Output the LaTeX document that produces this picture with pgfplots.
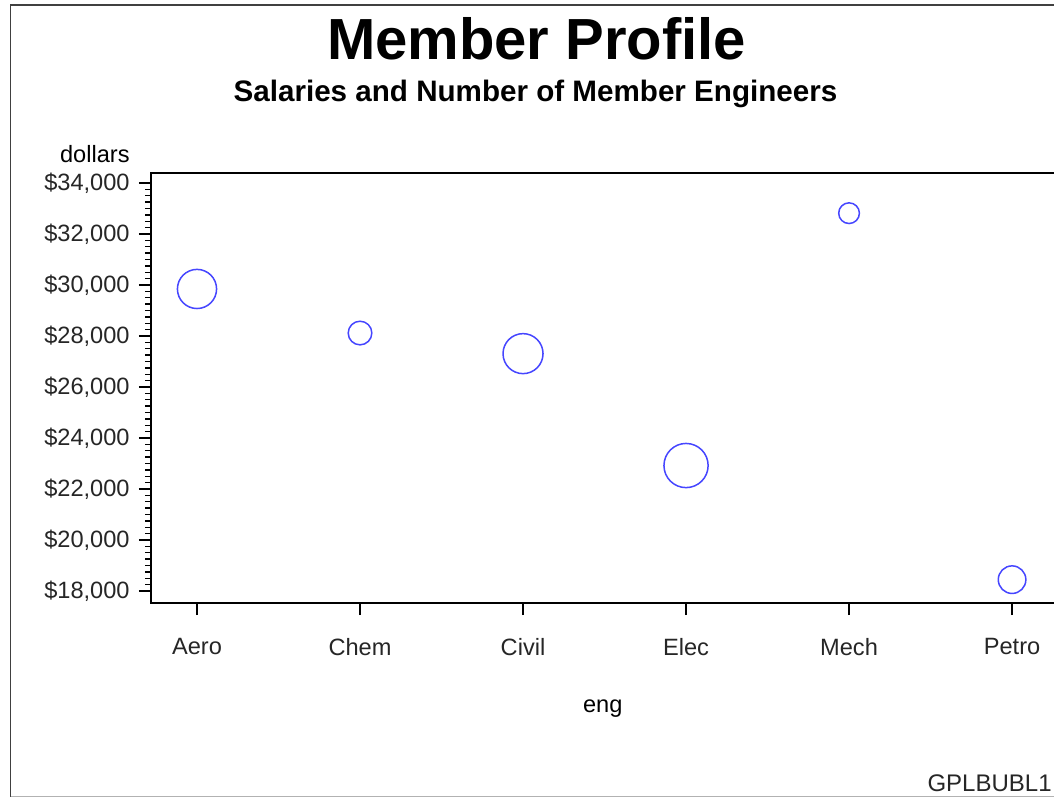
\documentclass[border=0pt]{standalone}
\usepackage{pgfplots}
\pgfplotsset{compat=1.18}
\usepackage{fontspec}
\setmainfont{Liberation Sans}
\definecolor{bubble}{RGB}{70,70,255}
\pgfplotstableread{
x eng dollars num
0 Aero 29844 70192
1 Chem 28116 25541
2 Civil 27308 73273
3 Elec 22920 89382
4 Mech 32816 19601
5 Petro 18444 34833
}\jobs
\begin{document}
\begin{tikzpicture}
\useasboundingbox (0pt,0pt) rectangle (527pt,398.5pt);
\fill[white] (0pt,0pt) rectangle (527pt,398.5pt);
\begin{axis}[
  at={(75.5pt,97pt)}, anchor=south west, scale only axis,
  width=454.5pt, height=215pt,
  xmin=-0.2822, xmax=5.294,
  ymin=17529, ymax=34392,
  scaled y ticks=false,
  axis line style={line width=0.8pt},
  xtick={0,1,2,3,4,5},
  xticklabels={Aero,Chem,Civil,Elec,Mech,Petro},
  ytick={18000,20000,...,34000},
  yticklabels={\$18{,}000,\$20{,}000,\$22{,}000,\$24{,}000,\$26{,}000,\$28{,}000,\$30{,}000,\$32{,}000,\$34{,}000},
  minor y tick num=7,
  tick align=outside,
  xtick pos=bottom, ytick pos=left,
  major tick length=6pt, minor tick length=3pt,
  every tick/.style={black, line width=0.7pt},
  tick label style={font=\fontsize{11.8}{14}\selectfont, text=black!85},
  yticklabel style={inner sep=0pt, xshift=-4.5pt},
  xticklabel style={inner sep=0pt, yshift=-11.5pt},
]
\addplot[scatter, only marks, mark=o,
  scatter/use mapped color={draw=bubble},
  mark options={line width=0.75pt},
  visualization depends on={0.03695*sqrt(\thisrow{num}) \as \rad},
  scatter/@pre marker code/.append style={/tikz/mark size=\rad pt},
] table[x=x, y=dollars] {\jobs};
\end{axis}
\begin{scope}[x=0.5pt,y=0.5pt]
\draw[black!75, line width=0.8pt] (10.5,0) -- (10.5,792) -- (1054,792);
\draw[black!30, line width=0.6pt] (10.5,0.8) -- (1054,0.8);
\node[anchor=base, font=\bfseries\fontsize{29}{34}\selectfont] at (536.5,737) {Member Profile};
\node[anchor=base, font=\bfseries\fontsize{14.8}{17}\selectfont] at (535.5,695) {Salaries and Number of Member Engineers};
\node[anchor=base east, inner sep=0pt, font=\fontsize{11.8}{14}\selectfont] at (130,634) {dollars};
\node[anchor=base, inner sep=0pt, font=\fontsize{11.8}{14}\selectfont] at (602.7,84.3) {eng};
\node[anchor=base east, inner sep=0pt, font=\fontsize{12}{14}\selectfont, text=black!85] at (1052,5.5) {GPLBUBL1};
\end{scope}
\end{tikzpicture}
\end{document}
